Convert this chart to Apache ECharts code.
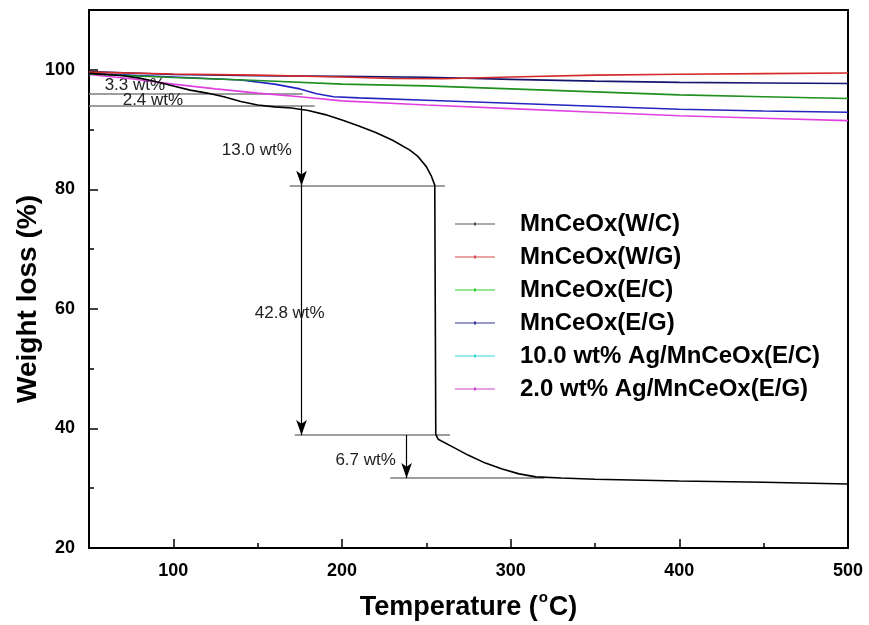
<!DOCTYPE html>
<html><head><meta charset="utf-8">
<script src="https://cdn.jsdelivr.net/npm/echarts@6/dist/echarts.min.js"></script>
<style>html,body{margin:0;padding:0;background:#fff}#c{width:869px;height:625px}</style>
</head><body><div id="c"></div>
<script>
// ---- data ----
const seriesNames = ['MnCeOx(W/C)','MnCeOx(W/G)','MnCeOx(E/C)','MnCeOx(E/G)','10.0 wt% Ag/MnCeOx(E/C)','2.0 wt% Ag/MnCeOx(E/G)'];

const wcT = [50,60,70,80,90,100,110,120,130,140,150,160,170,180,190,200,210,220,230,240,245,250,253,255,255.3,255.6,257,265,275,285,295,305,315,330,350,400,450,500];
const wcY = [99.4,99.2,99.0,98.6,98.0,97.3,96.6,96.1,95.5,94.7,94.1,93.8,93.6,93.2,92.5,91.6,90.6,89.5,88.2,86.6,85.5,83.8,82.2,80.7,60.0,39.0,38.2,37.0,35.5,34.2,33.2,32.4,31.9,31.7,31.5,31.2,31.0,30.7];

const wgT = [50,100,150,200,230,260,300,350,400,450,500];
const wgY = [99.6,99.3,99.1,98.8,98.55,98.5,98.8,99.1,99.25,99.35,99.45];

const ecT = [50,100,150,200,250,300,350,400,450,500];
const ecY = [99.3,98.7,98.2,97.6,97.3,96.8,96.3,95.8,95.5,95.2];

const egT = [50,100,140,160,175,185,195,210,250,300,350,400,450,500];
const egY = [99.4,98.8,98.3,97.6,96.8,96.0,95.5,95.3,94.9,94.4,93.9,93.4,93.1,92.9];

const agEcT = [50,100,150,200,250,300,350,400,450,500];
const agEcY = [99.7,99.2,99.0,98.9,98.75,98.4,98.1,97.9,97.8,97.7];

const agEgT = [50,75,100,125,150,175,200,250,300,350,400,450,500];
const agEgY = [99.2,98.5,97.6,96.8,96.1,95.5,94.8,94.1,93.5,92.9,92.3,91.9,91.5];

const xTicks = [100,200,300,400,500];
const xMinorTicks = [150,250,350,450];
const yTicks = [20,40,60,80,100];
const yMinorTicks = [30,50,70,90];

// annotation guides (data units)
const guideLines = [[[50,96.05],[176.7,96.05]],[[50,93.95],[183.8,93.95]],[[169,80.6],[261,80.6]],[[172,38.9],[264,38.9]],[[228.6,31.7],[320,31.7]]];
const arrows = [[[176,93.95],[176,80.6]],[[176,80.6],[176,38.9]],[[238.3,38.9],[238.3,31.7]]];
const notes = [['3.3 wt%',77.2,97.33],['2.4 wt%',87.9,94.83],['13.0 wt%',149.5,86.5],['42.8 wt%',169,59.3],['6.7 wt%',214,34.67]];

// ---- styles ----
const FONT = '"Liberation Sans", Arial, Helvetica, sans-serif';
const lineColors = ['#000000','#d42a2a','#1f8f1f','#2424c0','#15156e','#e040e0'];
const legendColors = ['#555555','#d44a4a','#2fcf2f','#30309a','#30d8d8','#d040d0'];

function pairs(t,y){return t.map((v,i)=>[v,y[i]]);}
const allData = [pairs(wcT,wcY),pairs(wgT,wgY),pairs(ecT,ecY),pairs(egT,egY),pairs(agEcT,agEcY),pairs(agEgT,agEgY)];

const series = seriesNames.map((n,i)=>({
  name:n, type:'line', data: allData[i], xAxisIndex:0, yAxisIndex:0,
  showSymbol:false, symbol:'circle', symbolSize:3, smooth:false,
  lineStyle:{color:lineColors[i], width:1.6}, itemStyle:{color:lineColors[i]},
  z: 10-i, silent:true
}));

const mlData = guideLines.map(l=>[{coord:l[0],symbol:'none',lineStyle:{color:'#7d7d7d',width:1.6,type:'solid'}},{coord:l[1],symbol:'none'}])
 .concat(arrows.map(a=>[{coord:a[0],symbol:'none',lineStyle:{color:'#000',width:1.2,type:'solid'}},{coord:a[1],symbol:'arrow',symbolSize:[8,15]}]));
series[0].markLine = {silent:true, animation:false, symbol:'none', label:{show:false}, data: mlData};
series[0].markPoint = {silent:true, animation:false, symbol:'circle', symbolSize:0,
  label:{show:true, position:'inside', formatter:'{b}', fontSize:17, color:'#222', fontFamily:FONT},
  data: notes.map(n=>({name:n[0], coord:[n[1],n[2]]}))};

const legendIcon = 'path://M0,1H40V2H0Z M19,0H21V3H19Z';

const chart = echarts.init(document.getElementById('c'));
chart.setOption({
  animation:false,
  backgroundColor:'#fff',
  grid:{left:89, right:21, top:10, bottom:77, show:true, borderColor:'#000', borderWidth:2, backgroundColor:'transparent', containLabel:false, outerBoundsMode:'none'},
  legend:{orient:'vertical', left:450, top:207, itemWidth:40, itemHeight:3, itemGap:9,
    textStyle:{fontSize:24, fontWeight:'bold', color:'#000', fontFamily:FONT, padding:[0,0,0,20]},
    data: seriesNames.map((n,i)=>({name:n, icon:legendIcon, itemStyle:{color:legendColors[i]}}))},
  graphic:[{type:'text', left:14, top:195, rotation:Math.PI/2,
    style:{text:'Weight loss (%)', fontSize:28, fontWeight:'bold', fill:'#000', fontFamily:FONT}}],
  xAxis:[
    {type:'value', min:50, max:500, position:'bottom',
     name:'Temperature ({sup|o}C)', nameLocation:'middle', nameGap:42,
     nameTextStyle:{fontSize:27, fontWeight:'bold', color:'#000', fontFamily:FONT,
       rich:{sup:{fontSize:15, fontWeight:'bold', color:'#000', fontFamily:FONT, padding:[0,1,20,1]}}},
     axisLine:{lineStyle:{color:'#000', width:2}},
     axisTick:{show:true, inside:true, length:9, lineStyle:{color:'#000', width:1.5}, customValues:xTicks},
     axisLabel:{fontSize:18, fontWeight:'bold', color:'#000', fontFamily:FONT, margin:14, customValues:xTicks},
     splitLine:{show:false}},
    {type:'value', min:50, max:500, position:'bottom',
     axisLine:{show:false},
     axisTick:{show:true, inside:true, length:5, lineStyle:{color:'#000', width:1.5}, customValues:xMinorTicks},
     axisLabel:{show:false}, splitLine:{show:false}}
  ],
  yAxis:[
    {type:'value', min:20, max:110, position:'left',
     axisLine:{lineStyle:{color:'#000', width:2}},
     axisTick:{show:true, inside:true, length:9, lineStyle:{color:'#000', width:1.5}, customValues:yTicks},
     axisLabel:{fontSize:18, fontWeight:'bold', color:'#000', fontFamily:FONT, margin:14, customValues:yTicks},
     splitLine:{show:false}},
    {type:'value', min:20, max:110, position:'left',
     axisLine:{show:false},
     axisTick:{show:true, inside:true, length:5, lineStyle:{color:'#000', width:1.5}, customValues:yMinorTicks},
     axisLabel:{show:false}, splitLine:{show:false}}
  ],
  series: series
});
</script></body></html>
